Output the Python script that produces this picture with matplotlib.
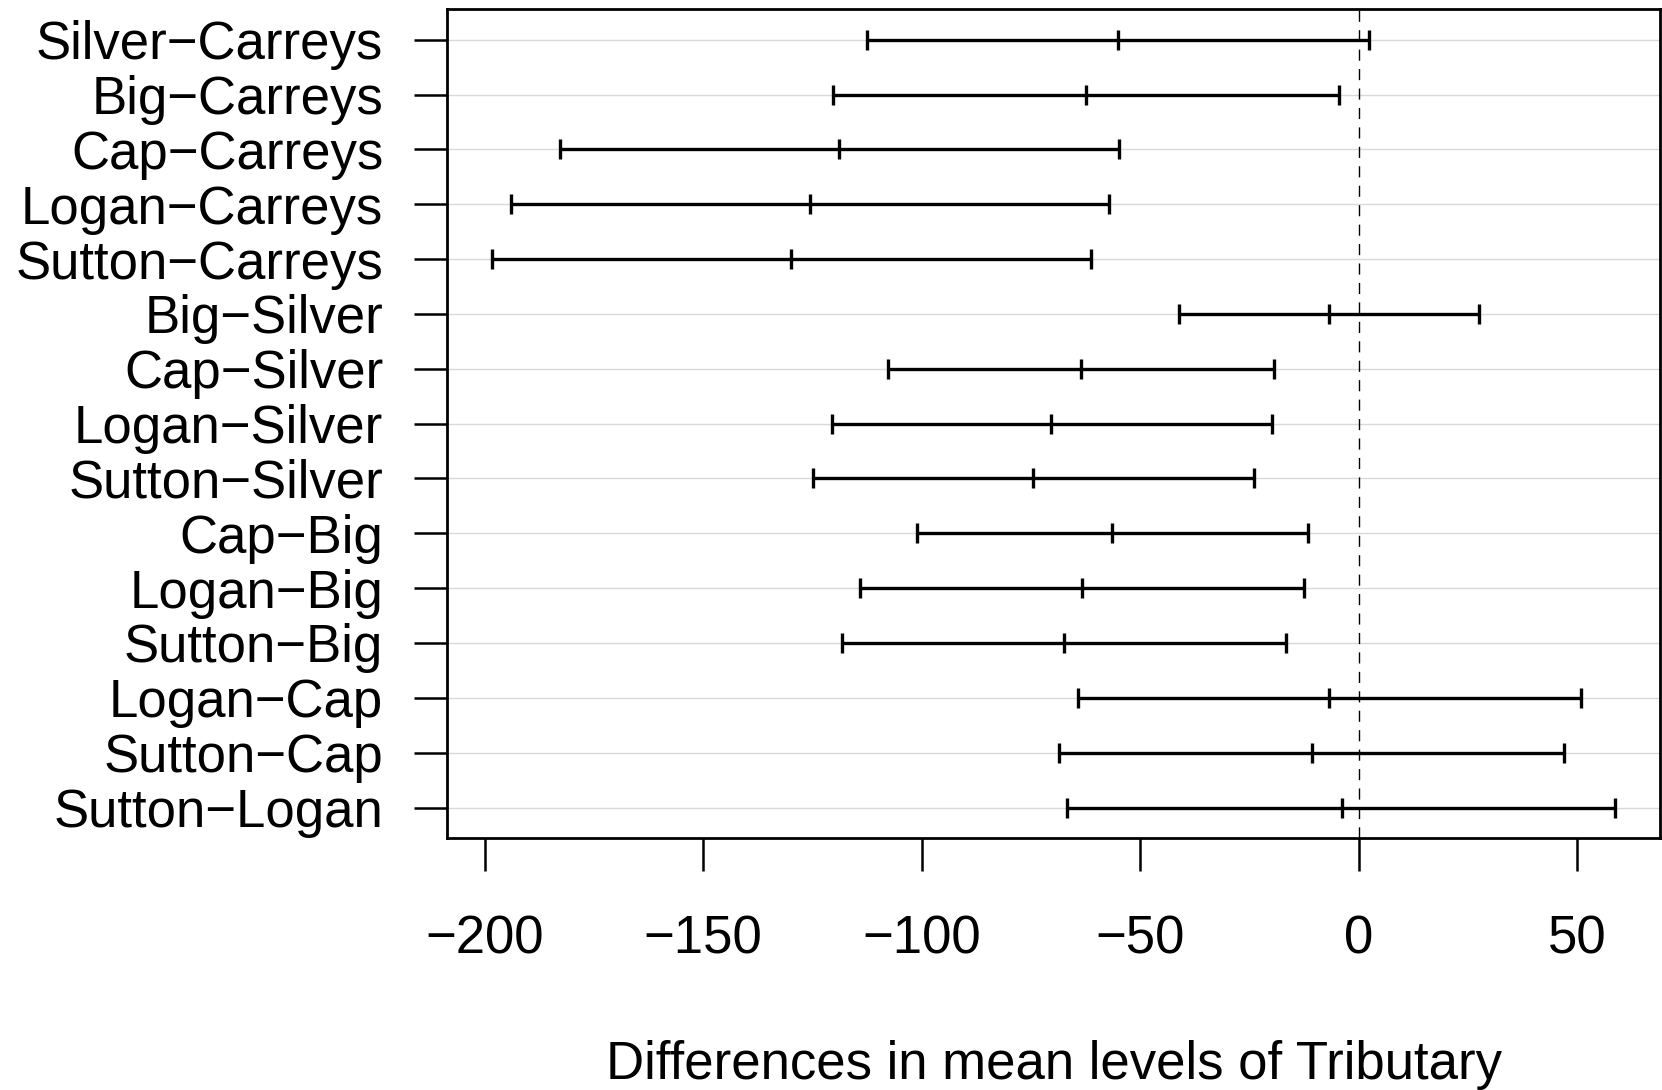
import numpy as np
import matplotlib
matplotlib.use('Agg')
from matplotlib import pyplot as plt

plt.rcParams['font.family'] = ['Liberation Sans', 'DejaVu Sans']

# Tukey HSD comparisons, top row first
comparisons = ['Silver\u2212Carreys', 'Big\u2212Carreys', 'Cap\u2212Carreys', 'Logan\u2212Carreys',
               'Sutton\u2212Carreys', 'Big\u2212Silver', 'Cap\u2212Silver', 'Logan\u2212Silver',
               'Sutton\u2212Silver', 'Cap\u2212Big', 'Logan\u2212Big', 'Sutton\u2212Big',
               'Logan\u2212Cap', 'Sutton\u2212Cap', 'Sutton\u2212Logan']
diff = [-55.0, -62.3, -118.8, -125.6, -129.9, -6.8, -63.5, -70.3, -74.4,
        -56.5, -63.3, -67.4, -6.8, -10.7, -3.9]
lwr = [-112.5, -120.2, -182.8, -193.9, -198.3, -41.2, -107.6, -120.5, -124.8,
       -101.1, -114.2, -118.1, -64.2, -68.6, -66.7]
upr = [2.4, -4.4, -54.8, -57.2, -61.3, 27.6, -19.4, -19.9, -24.0,
       -11.6, -12.4, -16.5, 50.9, 47.0, 58.7]
xticks = [-200, -150, -100, -50, 0, 50]

n = len(comparisons)
ypos = np.arange(n, 0, -1)

fig = plt.figure(figsize=(16.62, 10.90), dpi=100)
ax = fig.add_axes([0.269, 0.231, 0.7298, 0.7607])

# light horizontal grid at every row
for y in ypos:
    ax.axhline(y, color='#d9d9d9', lw=1.0, zorder=0)

ax.axvline(0, color='black', lw=1.0, ls=(0, (8, 6)), zorder=1)

ax.hlines(ypos, lwr, upr, color='black', lw=2.4, zorder=2)
for vals in (lwr, diff, upr):
    ax.plot(vals, ypos, ls='none', marker='|', ms=14, mew=2.4, color='black', zorder=3)

span = max(upr) - min(lwr)
ax.set_xlim(min(lwr) - 0.04 * span, max(upr) + 0.04 * span)
ax.set_ylim(1 - 0.04 * (n - 1), n + 0.04 * (n - 1))

ax.set_yticks(ypos)
ax.set_yticklabels(comparisons)
ax.set_xticks(xticks)
ax.set_xticklabels([str(t).replace('-', '\u2212') for t in xticks])

ax.tick_params(axis='both', length=24, width=1.8, labelsize=38, color='black')
ax.tick_params(axis='x', pad=31)
ax.tick_params(axis='y', pad=22)
for s in ax.spines.values():
    s.set_linewidth(2.0)

ax.set_xlabel('Differences in mean levels of Tributary', fontsize=38, labelpad=54)

fig.savefig('out.png', dpi=100)
